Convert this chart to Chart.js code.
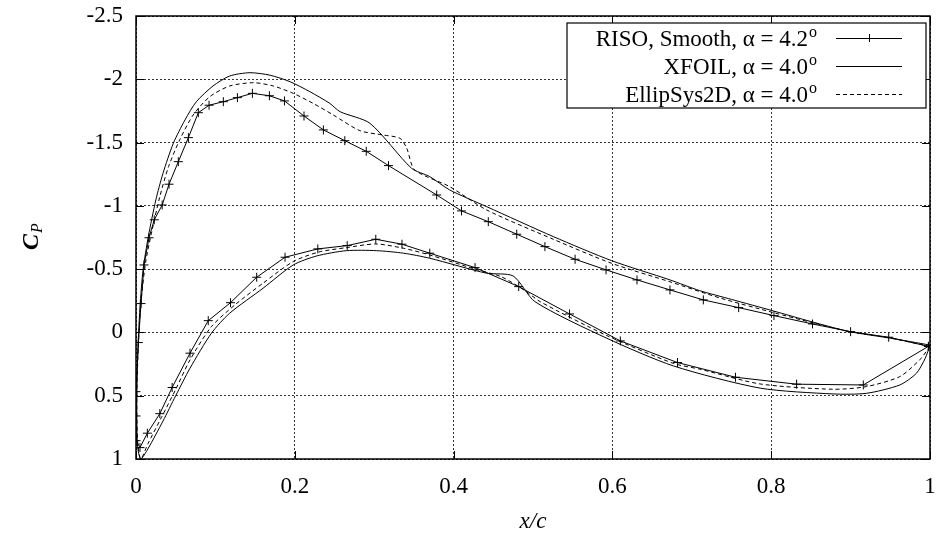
<!DOCTYPE html>
<html><head><meta charset="utf-8">
<script src="https://cdn.jsdelivr.net/npm/chart.js@4.4.0/dist/chart.umd.min.js"></script>
<style>html,body{margin:0;padding:0;background:#fff}#wrap{width:940px;height:535px;position:relative}</style>
</head><body><div id="wrap"><canvas id="c" width="940" height="535"></canvas></div>
<script>
// ---- tick labels ----
const xTicks = [0, 0.2, 0.4, 0.6, 0.8, 1];
const yTicks = [-2.5, -2, -1.5, -1, -0.5, 0, 0.5, 1];
const xTitle = 'x/c';
const seriesNames = ['RISO, Smooth, \u03b1 = 4.2', 'XFOIL, \u03b1 = 4.0', 'EllipSys2D, \u03b1 = 4.0'];
const seriesSup = ['o', 'o', 'o'];

// ---- RISO, Smooth (measurements, upper TE -> LE -> lower TE) ----
const risoX = [0.998,0.948,0.900,0.852,0.8035,0.759,0.7145,0.6725,0.631,0.592,
               0.553,0.515,0.4795,0.4437,0.410,0.3787,0.318,0.290,0.263,0.236,
               0.2116,0.187,0.168,0.1466,0.1277,0.110,0.092,0.0785,0.066,0.0533,
               0.0416,0.033,0.023,0.0164,0.0101,0.0063,0.003,0.0,0.0,0.0,
               0.005,0.0143,0.030,0.0455,0.068,0.091,0.119,0.152,0.1877,0.229,
               0.266,0.302,0.335,0.370,0.427,0.482,0.546,0.610,0.682,0.755,
               0.832,0.916,0.998];
const risoY = [0.11,0.038,-0.006,-0.067,-0.133,-0.196,-0.257,-0.336,-0.415,-0.494,
               -0.578,-0.678,-0.776,-0.875,-0.960,-1.086,-1.318,-1.431,-1.515,-1.600,
               -1.710,-1.829,-1.870,-1.889,-1.855,-1.823,-1.795,-1.736,-1.539,-1.349,
               -1.171,-1.007,-0.890,-0.748,-0.533,-0.228,0.080,0.468,0.660,0.855,
               0.910,0.796,0.642,0.435,0.164,-0.093,-0.235,-0.436,-0.594,-0.660,
               -0.686,-0.736,-0.697,-0.626,-0.512,-0.362,-0.146,0.067,0.238,0.354,
               0.409,0.415,0.110];

// ---- XFOIL ----
const xfoilX = [1.0,0.95,0.899,0.85,0.8026,0.75,0.710,0.6725,0.599,0.5256,
                0.4415,0.395,0.370,0.347,0.2947,0.257,0.244,0.219,0.194,0.169,
                0.1436,0.118,0.097,0.076,0.0617,0.047,0.034,0.025,0.0155,0.009,
                0.005,0.002,0.001,0.002,0.006,0.015,0.034,0.050,0.068,0.095,
                0.118,0.160,0.198,0.2275,0.265,0.303,0.337,0.370,0.4415,0.475,
                0.5025,0.593,0.677,0.786,0.878,0.920,0.962,0.983,0.994,1.0];
const xfoilY = [0.10,0.045,-0.006,-0.086,-0.170,-0.261,-0.330,-0.415,-0.567,-0.757,
                -0.994,-1.126,-1.231,-1.297,-1.652,-1.744,-1.810,-1.902,-1.981,-2.032,
                -2.052,-2.026,-1.947,-1.823,-1.679,-1.494,-1.257,-1.047,-0.757,-0.500,
                -0.200,0.200,0.600,0.900,1.000,0.920,0.700,0.500,0.283,0.006,
                -0.152,-0.349,-0.533,-0.604,-0.646,-0.646,-0.626,-0.586,-0.468,-0.446,
                -0.243,0.046,0.265,0.440,0.486,0.481,0.415,0.322,0.204,0.10];

// ---- EllipSys2D ----
const ellX = [1.0,0.95,0.899,0.85,0.8026,0.7355,0.6725,0.599,0.5256,0.4415,
              0.395,0.351,0.341,0.3325,0.311,0.282,0.2485,0.223,0.198,0.173,
              0.148,0.118,0.093,0.072,0.055,0.041,0.030,0.020,0.012,0.006,
              0.003,0.001,0.002,0.006,0.015,0.032,0.050,0.068,0.095,0.125,
              0.160,0.198,0.230,0.265,0.302,0.337,0.370,0.427,0.46,0.49,
              0.509,0.593,0.677,0.710,0.786,0.878,0.920,0.962,0.987,1.0];
const ellY = [0.11,0.045,-0.006,-0.080,-0.157,-0.272,-0.400,-0.546,-0.736,-0.968,
              -1.152,-1.284,-1.455,-1.534,-1.560,-1.594,-1.718,-1.810,-1.889,-1.947,
              -1.973,-1.947,-1.863,-1.718,-1.521,-1.310,-1.073,-0.800,-0.550,-0.220,
              0.100,0.500,0.850,1.000,0.880,0.672,0.450,0.217,-0.046,-0.220,
              -0.389,-0.560,-0.635,-0.670,-0.699,-0.665,-0.612,-0.500,-0.440,-0.330,
              -0.243,0.025,0.245,0.290,0.407,0.449,0.428,0.349,0.217,0.11];

const pts = (xs, ys) => xs.map((v, i) => ({x: v, y: ys[i]}));
const FONT = "'Liberation Serif','Times New Roman',serif";

const framePlugin = {
  id: 'framePlugin',
  afterDraw(chart) {
    const {ctx, chartArea: a, scales: {x, y}} = chart;
    ctx.save();
    ctx.setLineDash([]);
    ctx.strokeStyle = '#000';
    ctx.lineWidth = 1;
    ctx.beginPath();
    xTicks.forEach(v => {
      const px = Math.round(x.getPixelForValue(v)) + 0.5;
      ctx.moveTo(px, a.bottom); ctx.lineTo(px, a.bottom - 8);
      ctx.moveTo(px, a.top); ctx.lineTo(px, a.top + 8);
    });
    yTicks.forEach(v => {
      const py = Math.round(y.getPixelForValue(v)) + 0.5;
      ctx.moveTo(a.left, py); ctx.lineTo(a.left + 8, py);
      ctx.moveTo(a.right, py); ctx.lineTo(a.right - 8, py);
    });
    ctx.stroke();
    ctx.lineWidth = 1.5;
    ctx.strokeRect(a.left, a.top, a.right - a.left, a.bottom - a.top);

    // legend
    const bx = a.right - 4, by = a.top + 7, bw = 359, bh = 85;
    ctx.fillStyle = '#fff';
    ctx.fillRect(bx - bw, by, bw, bh);
    ctx.lineWidth = 1.2;
    ctx.strokeStyle = '#000';
    ctx.strokeRect(bx - bw, by, bw, bh);
    const rows = [by + 15, by + 43, by + 71];
    const textRight = bx - 109;
    const s0 = bx - 90, s1 = bx - 24;
    chart.data.datasets.forEach((ds, i) => {
      const ly = rows[i];
      ctx.fillStyle = '#000';
      ctx.textBaseline = 'alphabetic';
      ctx.textAlign = 'right';
      ctx.font = '16px ' + FONT;
      const supW = ctx.measureText(seriesSup[i]).width;
      ctx.fillText(seriesSup[i], textRight, ly - 1);
      ctx.font = '23px ' + FONT;
      ctx.fillText(seriesNames[i], textRight - supW - 1, ly + 8);
      ctx.strokeStyle = '#000';
      ctx.lineWidth = 1;
      ctx.setLineDash(ds.borderDash || []);
      ctx.beginPath();
      ctx.moveTo(s0, ly + 0.5); ctx.lineTo(s1, ly + 0.5);
      ctx.stroke();
      ctx.setLineDash([]);
      if (ds.pointStyle === 'cross') {
        const cx = (s0 + s1) / 2;
        ctx.beginPath();
        ctx.moveTo(cx - 4, ly + 0.5); ctx.lineTo(cx + 4, ly + 0.5);
        ctx.moveTo(cx + 0.5, ly - 4); ctx.lineTo(cx + 0.5, ly + 4);
        ctx.stroke();
      }
    });

    // axis titles
    ctx.fillStyle = '#000';
    ctx.textAlign = 'center';
    ctx.textBaseline = 'alphabetic';
    ctx.font = 'italic 23px ' + FONT;
    ctx.fillText(xTitle, (a.left + a.right) / 2, a.bottom + 69);

    ctx.translate(38, 250);
    ctx.rotate(-Math.PI / 2);
    ctx.textAlign = 'left';
    ctx.font = 'bold italic 24px ' + FONT;
    ctx.fillText('C', 0, 0);
    const cw = ctx.measureText('C').width;
    ctx.font = 'italic 16px ' + FONT;
    ctx.fillText('P', cw + 1, 4);
    ctx.restore();
  }
};

new Chart(document.getElementById('c'), {
  type: 'scatter',
  data: {
    datasets: [
      { label: seriesNames[0], data: pts(risoX, risoY), showLine: true,
        borderColor: '#000', backgroundColor: '#000', borderWidth: 1,
        pointStyle: 'cross', pointRadius: 4.5, pointBorderWidth: 1, pointBorderColor: '#000',
        tension: 0 },
      { label: seriesNames[1], data: pts(xfoilX, xfoilY), showLine: true,
        borderColor: '#000', borderWidth: 1, pointRadius: 0, tension: 0.25 },
      { label: seriesNames[2], data: pts(ellX, ellY), showLine: true,
        borderColor: '#000', borderWidth: 1, borderDash: [4, 3], pointRadius: 0, tension: 0.25 }
    ]
  },
  options: {
    responsive: false,
    animation: false,
    devicePixelRatio: 1,
    layout: { padding: { top: 16, right: 10, bottom: 0, left: 0 } },
    plugins: { legend: { display: false }, tooltip: { enabled: false } },
    scales: {
      x: {
        type: 'linear', min: 0, max: 1,
        afterBuildTicks: s => { s.ticks = xTicks.map(v => ({value: v})); },
        afterFit: s => { s.height = 76; s.paddingLeft = 0; s.paddingRight = 0; },
        ticks: { color: '#000', padding: 14, font: { family: FONT, size: 23 },
                 callback: v => String(v) },
        grid: { color: '#333', lineWidth: 1, drawTicks: false },
        border: { display: false, dash: [2, 2] }
      },
      y: {
        type: 'linear', min: -2.5, max: 1, reverse: true,
        afterBuildTicks: s => { s.ticks = yTicks.map(v => ({value: v})); },
        afterFit: s => { s.width = 136; s.paddingTop = 0; s.paddingBottom = 0; },
        ticks: { color: '#000', padding: 13, font: { family: FONT, size: 23 },
                 callback: v => String(v) },
        grid: { color: '#333', lineWidth: 1, drawTicks: false },
        border: { display: false, dash: [2, 2] }
      }
    }
  },
  plugins: [framePlugin]
});
</script>
</body></html>
